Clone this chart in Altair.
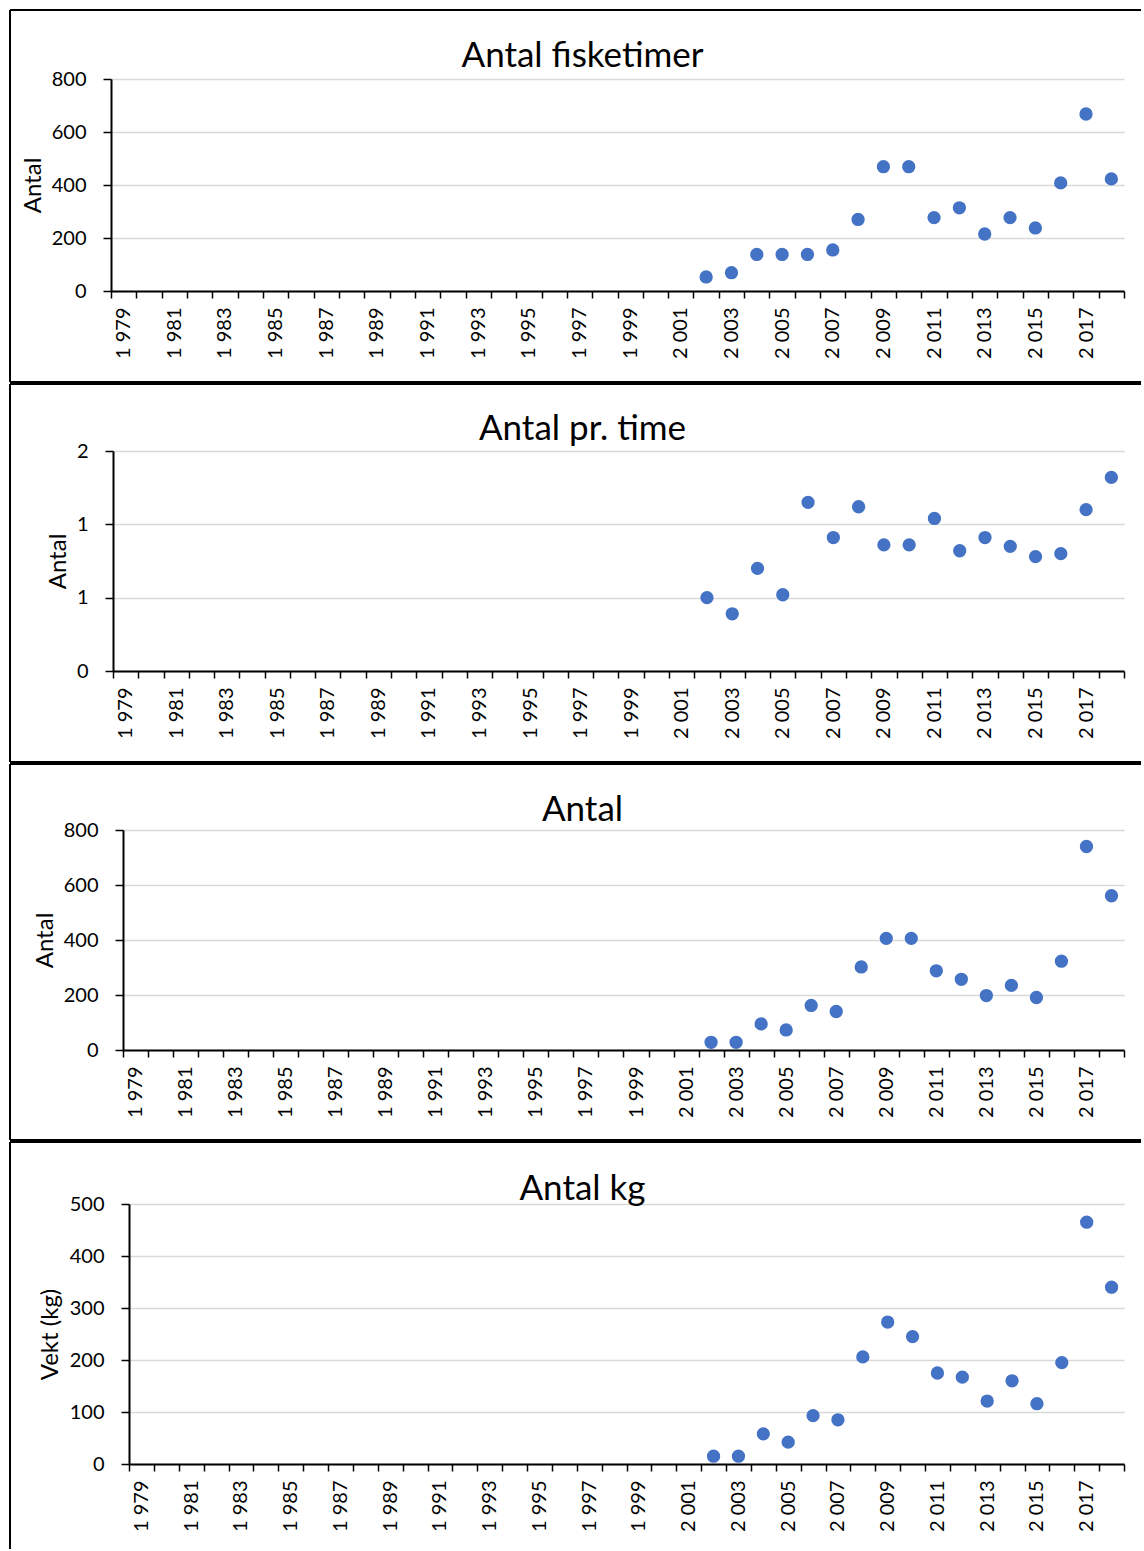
import altair as alt
import pandas as pd

# ---------------- data ----------------
years = list(range(1979, 2019))  # category axis 1979..2018
obs_years = [2002, 2003, 2004, 2005, 2006, 2007, 2008, 2009, 2010,
             2011, 2012, 2013, 2014, 2015, 2016, 2017, 2018]
fisketimer = [53, 69, 138, 138, 138, 155, 270, 469, 469, 277, 314, 215, 277, 238, 408, 668, 423]
antal_pr_time = [0.50, 0.39, 0.70, 0.52, 1.15, 0.91, 1.12, 0.86, 0.86,
                 1.04, 0.82, 0.91, 0.85, 0.78, 0.80, 1.10, 1.32]
antal = [28, 28, 95, 73, 162, 140, 302, 406, 406, 288, 257, 198, 235, 191, 323, 740, 561]
vekt_kg = [15, 15, 58, 42, 93, 85, 206, 273, 245, 175, 167, 121, 160, 116, 195, 465, 340]

titles = ["Antal fisketimer", "Antal pr. time", "Antal", "Antal kg"]
y_titles = ["Antal", "Antal", "Antal", "Vekt (kg)"]
y_ticks = [[0, 200, 400, 600, 800], [0, 0.5, 1.0, 1.5], [0, 200, 400, 600, 800],
           [0, 100, 200, 300, 400, 500]]

FONT = "Lato"
BLUE = "#4472C4"
GRID = "#d9d9d9"

# layout per panel (pixels)
layout = [
    dict(left=111, top=69, H=212, bottom=91, ytx=-71, tty=-12, border_bottom=True),
    dict(left=113, top=67, H=220, bottom=91, ytx=-48, tty=-11, border_bottom=True),
    dict(left=123, top=66, H=220, bottom=90, ytx=-71, tty=-9, border_bottom=True),
    dict(left=129, top=62, H=260, bottom=85, ytx=-72, tty=-4, border_bottom=False),
]
series = [fisketimer, antal_pr_time, antal, vekt_kg]

one = alt.Data(values=[{"k": 0}])


def make_panel(i):
    L = layout[i]
    W = 1124 - L["left"]
    H = L["H"]
    df = pd.DataFrame({"year": obs_years, "value": series[i]})
    ticks = y_ticks[i]
    ax_kwargs = dict(
        values=ticks, title=y_titles[i], grid=True, gridColor=GRID, gridWidth=1.3,
        domainColor="black", domainWidth=2, tickColor="black", tickWidth=1.5,
        tickSize=8, labelPadding=17, labelFontSize=20, labelFont=FONT,
        labelColor="black", titleFont=FONT, titleFontSize=24,
        titleFontWeight="normal", titleColor="black", titleAngle=270,
        titleX=L["ytx"], titleY=H / 2, titleAlign="center",
        titleBaseline="alphabetic",
    )
    if i == 1:
        ax_kwargs["labelExpr"] = "'' + round(datum.value)"
    yaxis = alt.Axis(**ax_kwargs)
    xaxis = alt.Axis(
        title=None, labelAngle=270,
        labelExpr="datum.value % 2 == 1 ? replace(format(datum.value, ','), ',', ' ') : ''",
        labelOverlap=False, tickBand="extent", grid=False, domainColor="black",
        domainWidth=2, tickColor="black", tickWidth=1.5, tickSize=7,
        labelPadding=9, labelFontSize=20, labelFont=FONT, labelColor="black",
    )
    points = alt.Chart(df).mark_circle(size=177, color=BLUE, opacity=1).encode(
        x=alt.X("year:O", scale=alt.Scale(type="band", domain=years,
                                           paddingInner=0, paddingOuter=0),
                axis=xaxis),
        y=alt.Y("value:Q", scale=alt.Scale(domain=[ticks[0], ticks[-1]], nice=False),
                axis=yaxis),
    )
    xl = -(L["left"] - 10)
    xr = 1141 - L["left"]
    yt = -L["top"]
    yb = H + L["bottom"]
    layers = [points]
    layers.append(alt.Chart(one).mark_rule(color="black", strokeWidth=2).encode(
        x=alt.value(xl), x2=alt.value(xr), y=alt.value(yt)))
    layers.append(alt.Chart(one).mark_rule(color="black", strokeWidth=2).encode(
        x=alt.value(xl), y=alt.value(yt), y2=alt.value(yb)))
    if L["border_bottom"]:
        layers.append(alt.Chart(one).mark_rule(color="black", strokeWidth=2).encode(
            x=alt.value(xl), x2=alt.value(xr), y=alt.value(yb)))
    layers.append(alt.Chart(one).mark_text(
        text=titles[i], font=FONT, fontSize=35, color="black", align="center",
        baseline="alphabetic").encode(
        x=alt.value(582.5 - L["left"]), y=alt.value(L["tty"])))
    panel = alt.layer(*layers).properties(width=W, height=H)
    # tiny invisible spacer in column 0 so the panel (column 1) is placed by
    # its own bounds: the borders line up, the plot areas keep their offsets
    spacer = alt.Chart(one).mark_rule(opacity=0).encode(
        x=alt.value(0), y=alt.value(0), y2=alt.value(1)).properties(width=1, height=1)
    return alt.hconcat(spacer, panel, spacing=0)


chart = alt.vconcat(*[make_panel(i) for i in range(4)], spacing=0).properties(
    padding={"left": 8, "top": 9, "right": 0, "bottom": 0},
    background="white",
).configure_view(stroke=None)

chart.save("out.html", embed_options={"renderer": "svg", "actions": False})
